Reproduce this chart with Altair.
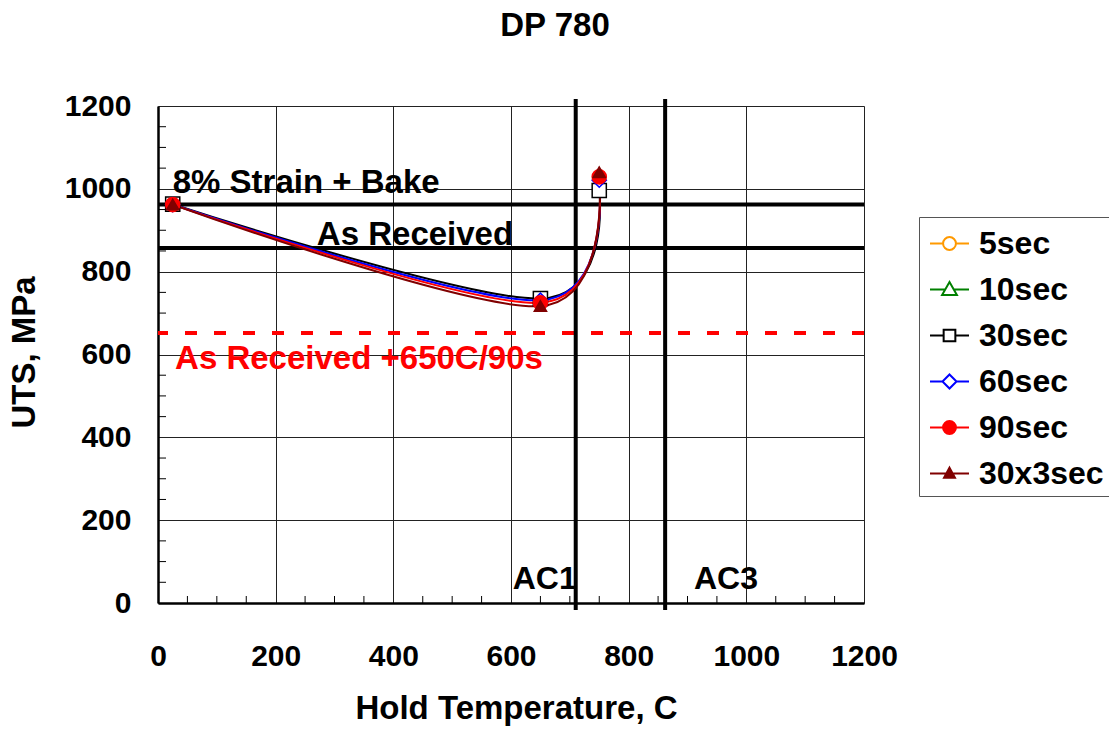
import altair as alt
import pandas as pd

FONT = "Liberation Sans"

# ---- series definitions ----
series_names = ["5sec", "10sec", "30sec", "60sec", "90sec", "30x3sec"]
series_colors = ["#FF9900", "#008000", "#000000", "#0000FF", "#FF0000", "#800000"]
series_fills = ["white", "white", "white", "white", "#FF0000", "#800000"]
legend_paths = [
    "M-1,0H-0.33M0.33,0H1M0.33,0A0.33,0.33 0 1,1 -0.33,0A0.33,0.33 0 1,1 0.33,0Z",
    "M-1,0H-0.2M0.2,0H1M0,-0.38L0.38,0.28L-0.38,0.28Z",
    "M-1,0H-0.3M0.3,0H1M-0.3,-0.3H0.3V0.3H-0.3Z",
    "M-1,0H-0.36M0.36,0H1M0,-0.36L0.36,0L0,0.36L-0.36,0Z",
    "M-1,0H-0.33M0.33,0H1M0.33,0A0.33,0.33 0 1,1 -0.33,0A0.33,0.33 0 1,1 0.33,0Z",
    "M-1,0H1M0,-0.3L0.28,0.22L-0.28,0.22Z",
]

# ---- data ----
temps = [25, 650, 750]
uts_30sec = [963, 735, 996]
uts_60sec = [962, 731, 1021]
uts_90sec = [962, 725, 1029]
uts_30x3sec = [962, 717, 1040]

plotted_series = ["30sec", "60sec", "90sec", "30x3sec"]
plotted_values = [uts_30sec, uts_60sec, uts_90sec, uts_30x3sec]
marker_shapes = ["square", "diamond", "circle", "triangle-up"]
marker_sizes = [200, 200, 200, 150]
marker_fill = ["white", "white", "#FF0000", "#800000"]
marker_stroke = ["#000000", "#0000FF", "#FF0000", "#800000"]

# reference lines
hline_values = [962, 857]
red_line_value = [652]
vline_values = [710, 862]

# annotations
ann_text = ["8% Strain + Bake", "As Received", "As Received +650C/90s", "AC1", "AC3"]
ann_x = [25, 270, 29, 603, 911]
ann_y = [989, 864, 564, 35, 35]
ann_color = ["black", "black", "#FF0000", "black", "black"]
ann_size = [33, 33, 33, 32, 32]

x_ticks = [0, 200, 400, 600, 800, 1000, 1200]
y_ticks = [0, 200, 400, 600, 800, 1000, 1200]
minor_ticks = [50, 100, 150, 250, 300, 350, 450, 500, 550, 650, 700, 750,
               850, 900, 950, 1050, 1100, 1150]

rows = []
for name, vals in zip(plotted_series, plotted_values):
    for t, v in zip(temps, vals):
        rows.append({"series": name, "temp": t, "uts": v})
df = pd.DataFrame(rows)

W, H = 706, 497

xscale = alt.Scale(domain=[0, 1200], nice=False, zero=False)
yscale = alt.Scale(domain=[0, 1200], nice=False, zero=False)

xaxis = alt.Axis(
    values=x_ticks, grid=True, gridColor="#222222", gridWidth=1, ticks=False, tickSize=0,
    domainColor="black", domainWidth=2.5,
    labelFont=FONT, labelFontSize=30, labelFontWeight="bold", labelColor="black",
    labelPadding=38, labelFlush=False, labelOverlap=False, format="d",
    titleFont=FONT, titleFontSize=33, titleFontWeight="bold", titleColor="black",
    titleX=358, titleY=115, titleBaseline="alphabetic", titleAlign="center",
)
yaxis = alt.Axis(
    values=y_ticks, grid=True, gridColor="#222222", gridWidth=1, ticks=False, tickSize=0,
    domainColor="black", domainWidth=2.5,
    labelFont=FONT, labelFontSize=30, labelFontWeight="bold", labelColor="black",
    labelPadding=27, labelFlush=False, labelOverlap=False, format="d",
    titleFont=FONT, titleFontSize=33, titleFontWeight="bold", titleColor="black",
    titleX=-134, titleY=246, titleAngle=270, titleBaseline="middle", titleAlign="center",
)


def xenc(field):
    return alt.X(field, type="quantitative", scale=xscale, axis=xaxis, title="Hold Temperature, C")


def yenc(field):
    return alt.Y(field, type="quantitative", scale=yscale, axis=yaxis, title="UTS, MPa")


legend_def = alt.Legend(
    title=None, orient="none", legendX=761, legendY=111, padding=6,
    symbolSize=1521, symbolStrokeWidth=2, symbolOffset=4, labelOffset=9,
    labelFont=FONT, labelFontSize=32, labelFontWeight="bold", labelColor="black",
    labelLimit=400, rowPadding=9, strokeColor="#555555", fillColor="white",
)
color_scale = alt.Scale(domain=series_names, range=series_colors)
fill_scale = alt.Scale(domain=series_names, range=series_fills)
shape_scale = alt.Scale(domain=series_names, range=legend_paths)

# minor ticks drawn inside the plot
xminor = alt.Chart(pd.DataFrame({"tick": minor_ticks})).mark_rule(color="black", strokeWidth=1).encode(
    x=xenc("tick"), y=alt.value(H), y2=alt.value(H - 7)
)
yminor = alt.Chart(pd.DataFrame({"tick": minor_ticks})).mark_rule(color="black", strokeWidth=1).encode(
    y=yenc("tick"), x=alt.value(0), x2=alt.value(8)
)

hlines = alt.Chart(pd.DataFrame({"v": hline_values})).mark_rule(color="black", strokeWidth=4).encode(
    y=yenc("v")
)
redline = alt.Chart(pd.DataFrame({"v": red_line_value})).mark_rule(
    color="#FF0000", strokeWidth=4, strokeDash=[12, 17]
).encode(y=yenc("v"))
vlines = alt.Chart(pd.DataFrame({"v": vline_values})).mark_rule(color="black", strokeWidth=4).encode(
    x=xenc("v"), y=alt.value(-7), y2=alt.value(H + 7)
)

lines = alt.Chart(df).mark_line(interpolate="cardinal", strokeWidth=2).encode(
    x=xenc("temp"), y=yenc("uts"),
    color=alt.Color("series:N", scale=color_scale, legend=legend_def),
)

legend_layer = alt.Chart(df).transform_filter("datum.series == 'none'").mark_point(
    filled=False, opacity=1
).encode(
    x=xenc("temp"), y=yenc("uts"),
    color=alt.Color("series:N", scale=color_scale, legend=legend_def),
    fill=alt.Fill("series:N", scale=fill_scale, legend=legend_def),
    shape=alt.Shape("series:N", scale=shape_scale, legend=legend_def),
)

marker_layers = []
for name, shp, sz, fl, st in zip(plotted_series, marker_shapes, marker_sizes, marker_fill, marker_stroke):
    marker_layers.append(
        alt.Chart(df).transform_filter(alt.datum.series == name).mark_point(
            shape=shp, size=sz, filled=True, fill=fl, stroke=st, strokeWidth=1.5, opacity=1
        ).encode(x=xenc("temp"), y=yenc("uts"))
    )

ann_df = pd.DataFrame({"text": ann_text, "x": ann_x, "y": ann_y, "color": ann_color, "size": ann_size})
annotations = alt.Chart(ann_df).mark_text(
    font=FONT, fontWeight="bold", align="left", baseline="alphabetic"
).encode(
    x=xenc("x"), y=yenc("y"), text="text:N",
    color=alt.Color("color:N", scale=None),
    size=alt.Size("size:Q", scale=None),
)

chart = alt.layer(
    xminor, yminor, hlines, redline, vlines, lines, legend_layer, *marker_layers, annotations
).properties(
    width=W, height=H,
    title=alt.TitleParams(
        "DP 780", font=FONT, fontSize=33, fontWeight="bold", color="black",
        anchor="middle", frame="group", dx=44, offset=48,
    ),
    autosize=alt.AutoSizeParams(type="none"),
    padding={"left": 158, "top": 106, "right": 245, "bottom": 126},
).configure_view(stroke="black", strokeWidth=1).configure(font=FONT)

chart.save("out.html", embed_options={"renderer": "svg", "actions": False})
